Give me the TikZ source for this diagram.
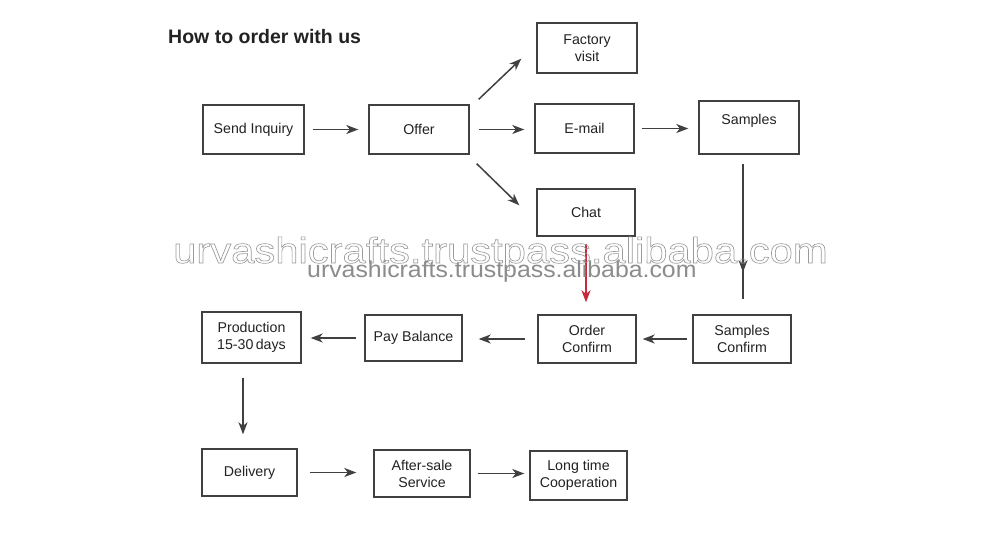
\documentclass[tikz,border=0pt]{standalone}
\usepackage{fontspec}
\setmainfont{Liberation Sans}
\usetikzlibrary{arrows.meta,calc,decorations.markings}
\definecolor{ink}{HTML}{222222}
\definecolor{boxline}{HTML}{404040}
\definecolor{redarrow}{HTML}{C8283A}
\definecolor{wmbig}{HTML}{9A9A9A}
\definecolor{wmsmall}{HTML}{8C8C8C}
\begin{document}
\begin{tikzpicture}[x=1pt,y=-1pt,
  box/.style={draw=boxline,line width=1.4pt,rectangle,inner sep=0pt,align=center,
    font=\fontsize{14.2}{17}\selectfont,text=ink},
  tip/.style={-{Stealth[length=12pt,width=9pt,inset=3.5pt]}},
  arr/.style={draw=boxline,line width=1.5pt,tip},
  redarr/.style={draw=redarrow,line width=1.5pt,tip},
]
\useasboundingbox[fill=white] (0,0) rectangle (1000,541);

\node[anchor=base west,inner sep=0pt,text=ink,font=\bfseries\fontsize{19.5}{22}\selectfont] (title) at (168,43) {How to order with us};

% top rows
\node[box,minimum width=101pt,minimum height=49pt] (send) at (253.5,129.5) {Send Inquiry};
\node[box,minimum width=100pt,minimum height=49pt] (offer) at (419,129.5) {Offer};
\node[box,minimum width=100pt,minimum height=50pt] (factory) at (587,48) {Factory\\visit};
\node[box,minimum width=99pt,minimum height=49pt] (email) at (584.5,128.5) {E-mail};
\node[box,minimum width=100pt,minimum height=53pt,text height=10pt,text depth=17pt] (samples) at (749,127.5) {Samples};
\node[box,minimum width=98pt,minimum height=47pt] (chat) at (586,212.5) {Chat};

% middle row
\node[box,minimum width=99pt,minimum height=51pt] (prod) at (251.5,337.5) {Production\\15-30\,days};
\node[box,minimum width=97pt,minimum height=46pt] (pay) at (413.5,338) {Pay Balance};
\node[box,minimum width=98pt,minimum height=48pt] (order) at (587,339) {Order\\Confirm};
\node[box,minimum width=98pt,minimum height=48pt] (sconf) at (742,339) {Samples\\Confirm};

% bottom row
\node[box,minimum width=95pt,minimum height=47pt] (delivery) at (249.5,472.5) {Delivery};
\node[box,minimum width=96pt,minimum height=47pt] (after) at (422,473.5) {After-sale\\Service};
\node[box,minimum width=97pt,minimum height=49pt] (long) at (578.5,475.5) {Long time\\Cooperation};

% connectors
\draw[arr,shorten <=8pt,shorten >=10pt] (send.east) -- (send.east -| offer.west);
\draw[arr] ($(offer.north east)+(9,-5)$) -- ($(factory.south west)+(-15,-15)$);
\draw[arr,shorten <=9pt,shorten >=10pt] (offer.east) -- (offer.east -| email.west);
\draw[arr] ($(offer.south east)+(7,9)$) -- ($(chat.north west)+(-17,17)$);
\draw[arr,shorten <=7pt,shorten >=10pt] (email.east) -- (email.east -| samples.west);
\draw[draw=boxline,line width=1.5pt,
  postaction={decorate},
  decoration={markings,mark=at position 0.8 with {\arrow[boxline]{Stealth[length=12pt,width=9pt,inset=3.5pt]}}}]
  ($(samples.south)+(-6,9)$) -- ($(sconf.north)+(1,-15)$);
\draw[redarr] ($(chat.south)+(0,7)$) -- ($(order.north)+(-1,-12)$);
\draw[arr,shorten <=5pt,shorten >=6pt] (sconf.west) -- (order.east);
\draw[arr,shorten <=12pt,shorten >=16pt] (order.west) -- (order.west -| pay.east);
\draw[arr,shorten <=8pt,shorten >=9pt] (pay.west) -- (pay.west -| prod.east);
\draw[arr] ($(prod.south)+(-8.5,14)$) -- ($(delivery.north)+(-6.5,-14)$);
\draw[arr,shorten <=12pt,shorten >=17pt] (delivery.east) -- (delivery.east -| after.west);
\draw[arr,shorten <=7pt,shorten >=5pt] (after.east) -- (after.east -| long.west);

% watermark
\node[anchor=base west,inner sep=0pt,text=wmbig] (wmA) at (173,263)
  {\scalebox{1.16}[1]{\fontsize{36}{40}\selectfont\special{pdf:literal direct 1 Tr 0.6 w}urvashicrafts.trustpass.alibaba.com\special{pdf:literal direct 0 Tr}}};
\node[anchor=base west,inner sep=0pt,text=wmsmall] (wmB) at (307,277)
  {\scalebox{1.08}[1]{\fontsize{23}{26}\selectfont urvashicrafts.trustpass.alibaba.com}};
\end{tikzpicture}
\end{document}
